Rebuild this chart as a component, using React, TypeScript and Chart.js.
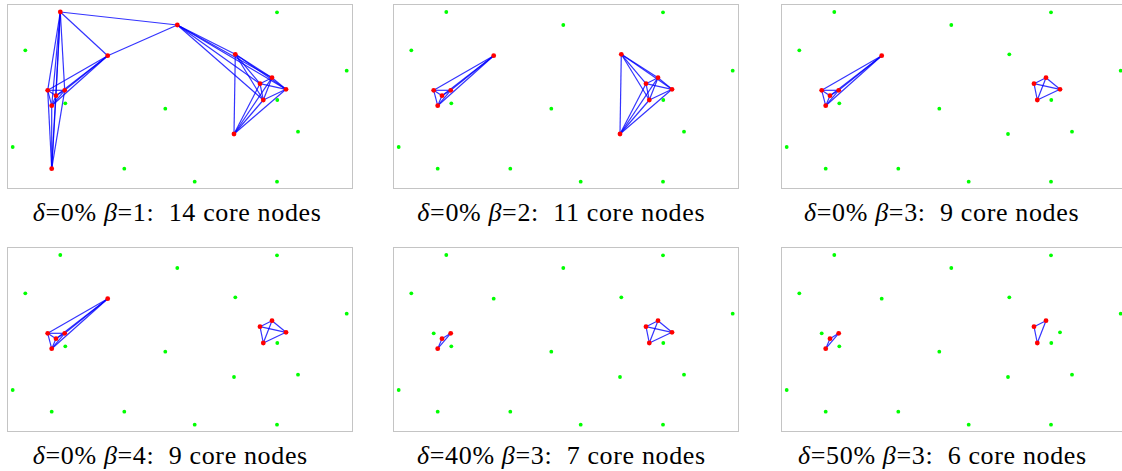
import React, { useEffect, useRef } from 'react';
import { Chart, registerables } from 'chart.js';

Chart.register(...registerables);

// ---- Data: node field positions (same layout in all six panels) ----
const NODE_NAMES = [
  'A', 'B', 'C', 'D', 'E', 'F', 'G', 'H', 'I', 'J', 'K', 'L', 'M', 'N',
  'g1', 'g2', 'g3', 'g4', 'g5', 'g6', 'g7', 'g8', 'g9', 'g10', 'g11',
];
const NODE_X = [
  52.3, 169.3, 99.7, 39.7, 56.7, 48.0, 43.7, 43.7, 227.3, 264.0, 252.0, 278.0, 255.3, 226.0,
  269.0, 17.3, 338.7, 57.3, 157.3, 269.3, 290.0, 4.7, 116.3, 186.7, 269.0,
];
const NODE_Y = [
  7.0, 20.0, 50.7, 85.3, 85.3, 90.7, 100.7, 163.7, 49.3, 72.7, 78.7, 84.3, 95.0, 129.0,
  7.3, 45.3, 65.7, 98.3, 103.7, 95.0, 126.7, 142.0, 163.7, 176.7, 176.7,
];

// ---- Data: panels ----
const PANEL_DELTA = ['0%', '0%', '0%', '0%', '40%', '50%'];
const PANEL_BETA = ['1', '2', '3', '4', '3', '3'];
const PANEL_CORE_COUNT = [14, 11, 9, 9, 7, 6];
const PANEL_CORE_NODES: string[][] = [
  ['A', 'B', 'C', 'D', 'E', 'F', 'G', 'H', 'I', 'J', 'K', 'L', 'M', 'N'],
  ['C', 'D', 'E', 'F', 'G', 'I', 'J', 'K', 'L', 'M', 'N'],
  ['C', 'D', 'E', 'F', 'G', 'J', 'K', 'L', 'M'],
  ['C', 'D', 'E', 'F', 'G', 'J', 'K', 'L', 'M'],
  ['E', 'F', 'G', 'J', 'K', 'L', 'M'],
  ['E', 'F', 'G', 'J', 'K', 'M'],
];
// groups of core nodes that are all linked to each other
const PANEL_LINK_GROUPS: string[][][] = [
  [
    ['A', 'D', 'E', 'F', 'G', 'H'],
    ['A', 'C'],
    ['C', 'D', 'E', 'F', 'G'],
    ['A', 'B'],
    ['B', 'C'],
    ['B', 'I', 'J', 'K', 'L', 'M'],
    ['I', 'J', 'K', 'L', 'M', 'N'],
  ],
  [
    ['C', 'D', 'E', 'F', 'G'],
    ['I', 'J', 'K', 'L', 'M', 'N'],
  ],
  [
    ['C', 'D', 'E', 'F', 'G'],
    ['J', 'K', 'L', 'M'],
  ],
  [
    ['C', 'D', 'E', 'F', 'G'],
    ['J', 'K', 'L', 'M'],
  ],
  [
    ['E', 'F', 'G'],
    ['J', 'K', 'L', 'M'],
  ],
  [
    ['E', 'F', 'G'],
    ['J', 'K', 'M'],
  ],
];

// ---- Layout (style only) ----
const PANEL_LEFT = [7, 393, 781, 7, 393, 781];
const PANEL_TOP = [4, 4, 4, 247, 247, 247];
const CAPTION_LEFT = [32.7, 417.3, 804, 32.7, 417, 798];
const FIELD_W = 344;
const FIELD_H = 183;
const SERIF = '"Liberation Serif", Tinos, "Times New Roman", Times, "DejaVu Serif", "Noto Serif", serif';

function pointOf(name: string) {
  const i = NODE_NAMES.indexOf(name);
  return { x: NODE_X[i], y: NODE_Y[i] };
}

function Panel({ index }: { index: number }) {
  const ref = useRef<HTMLCanvasElement>(null);
  useEffect(() => {
    if (!ref.current) return;
    const core = PANEL_CORE_NODES[index];
    const edgeSets: any[] = [];
    const seen = new Set<string>();
    PANEL_LINK_GROUPS[index].forEach((group) => {
      for (let a = 0; a < group.length; a++) {
        for (let b = a + 1; b < group.length; b++) {
          const key = [group[a], group[b]].sort().join('-');
          if (seen.has(key)) continue;
          seen.add(key);
          edgeSets.push({
            type: 'scatter',
            data: [pointOf(group[a]), pointOf(group[b])],
            showLine: true,
            borderColor: 'rgba(0,0,255,0.8)',
            borderWidth: 1.2,
            pointRadius: 0,
            clip: false,
            order: 3,
          });
        }
      }
    });
    const others = NODE_NAMES.filter((n) => !core.includes(n));
    const chart = new Chart(ref.current, {
      type: 'scatter',
      data: {
        datasets: [
          {
            data: core.map(pointOf),
            pointRadius: 2.4,
            pointBorderWidth: 0,
            backgroundColor: '#ff0000',
            clip: false,
            order: 1,
          } as any,
          {
            data: others.map(pointOf),
            pointRadius: 1.9,
            pointBorderWidth: 0,
            backgroundColor: '#00ff00',
            clip: false,
            order: 2,
          } as any,
          ...edgeSets,
        ],
      },
      options: {
        responsive: false,
        animation: false,
        layout: { padding: 0, autoPadding: false },
        plugins: { legend: { display: false }, tooltip: { enabled: false } },
        scales: {
          x: { type: 'linear', display: false, min: 0, max: FIELD_W },
          y: { type: 'linear', display: false, min: 0, max: FIELD_H, reverse: true },
        },
      } as any,
    });
    return () => chart.destroy();
  }, [index]);

  return (
    <>
      <div
        style={{
          position: 'absolute',
          left: PANEL_LEFT[index],
          top: PANEL_TOP[index],
          width: FIELD_W + 2,
          height: FIELD_H + 2,
          boxSizing: 'border-box',
          border: '1px solid #c4c4c4',
          background: '#fff',
        }}
      >
        <canvas
          ref={ref}
          width={FIELD_W}
          height={FIELD_H}
          style={{ display: 'block', width: FIELD_W, height: FIELD_H }}
        />
      </div>
      <div
        style={{
          position: 'absolute',
          left: CAPTION_LEFT[index],
          top: PANEL_TOP[index] + 196,
          fontFamily: SERIF,
          fontSize: 26,
          lineHeight: '26px',
          letterSpacing: '0.65px',
          whiteSpace: 'pre',
          color: '#000',
        }}
      >
        <i>δ</i>={PANEL_DELTA[index]} <i>β</i>={PANEL_BETA[index]}:  {PANEL_CORE_COUNT[index]} core nodes
      </div>
    </>
  );
}

export default function App() {
  return (
    <div
      style={{
        position: 'absolute',
        left: 0,
        top: 0,
        width: 1122,
        height: 471,
        overflow: 'hidden',
        background: '#fff',
      }}
    >
      {[0, 1, 2, 3, 4, 5].map((i) => (
        <Panel key={i} index={i} />
      ))}
    </div>
  );
}
